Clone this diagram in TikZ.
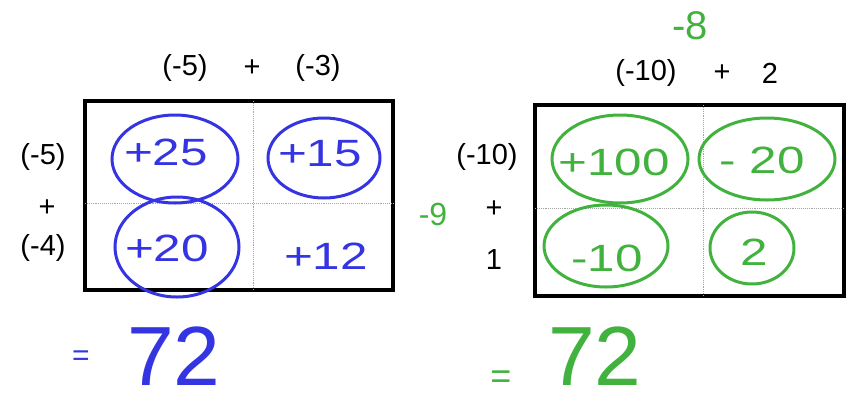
\documentclass[tikz,border=0pt]{standalone}
\usepackage{fontspec}
\setmainfont{Liberation Sans}
\usetikzlibrary{positioning}
\definecolor{handblue}{RGB}{52,52,226}
\definecolor{handgreen}{RGB}{66,178,62}
\newcommand{\hand}[1]{\scalebox{1.3}[1]{#1}}

\begin{document}
\begin{tikzpicture}[
  x=1pt, y=-1pt,
  grid/.style={draw, line width=3.2pt},
  divider/.style={draw=gray!70, densely dotted, line width=0.9pt},
  factor/.style={inner sep=0pt, font=\fontsize{29}{29}\selectfont},
  ink/.style={inner sep=0pt, font=\fontsize{38}{38}\selectfont},
  note/.style={inner sep=0pt, font=\fontsize{32}{32}\selectfont, text=handgreen},
  total/.style={inner sep=0pt, font=\fontsize{84}{84}\selectfont},
  loop/.style={line width=3pt},
]
\useasboundingbox (0,0) rectangle (854,402);

% left box: (-5)+(-3) times (-5)+(-4)
\draw[grid] (85,101) rectangle (393,290);
\draw[divider] (253,101) -- (253,290);
\draw[divider] (85,203) -- (393,203);

\node[factor] (ta) at (185,68) {(-5)};
\node[factor] (tplus) at (252,68) {+};
\node[factor] (tb) at (318,68) {(-3)};
\node[factor] (la) at (43,157) {(-5)};
\node[factor] (lplus) at (47,208) {+};
\node[factor] (lb) at (43,248) {(-4)};

\node[ink, text=handblue] (p25) at (166,152) {\hand{+25}};
\node[ink, text=handblue] (p15) at (320,154) {\hand{+15}};
\node[ink, text=handblue] (p20) at (167,248) {\hand{+20}};
\node[ink, text=handblue] (p12) at (326,256) {\hand{+12}};
\draw[loop, handblue] (175,159) ellipse [x radius=63, y radius=44];
\draw[loop, handblue] (324,158) ellipse [x radius=56, y radius=40];
\draw[loop, handblue] (177,247) ellipse [x radius=62, y radius=50];

\node[inner sep=0pt, font=\fontsize{30}{30}\selectfont, text=handblue] (eqa) at (81,358) {=};
\node[total, text=handblue] (suma) at (174,356) {72};

% right box: (-10)+2 times (-10)+1
\draw[grid] (535,105) rectangle (844,296);
\draw[divider] (703,105) -- (703,296);
\draw[divider] (535,208) -- (844,208);

\node[note, font=\fontsize{40}{40}\selectfont] (sumt) at (690,26) {-8};
\node[factor] (tc) at (646,73) {(-10)};
\node[factor] (tplus2) at (722,73) {+};
\node[factor] (td) at (770,73) {2};
\node[factor] (lc) at (487,157) {(-10)};
\node[factor] (lplus2) at (494,209) {+};
\node[factor] (ld) at (494,260) {1};
\node[note] (suml) at (433,214) {-9};

\node[ink, text=handgreen] (p100) at (614,162) {\hand{+100}};
\node[ink, text=handgreen] (m20) at (762,160) {\hand{- 20}};
\node[ink, text=handgreen] (m10) at (607,258) {\hand{-10}};
\node[ink, text=handgreen] (p2) at (754,252) {\hand{2}};
\draw[loop, handgreen] (620,159) ellipse [x radius=68, y radius=44];
\draw[loop, handgreen] (767,159) ellipse [x radius=68, y radius=41];
\draw[loop, handgreen] (606,246) ellipse [x radius=62, y radius=41];
\draw[loop, handgreen] (752,248) ellipse [x radius=42, y radius=36];

\node[inner sep=0pt, font=\fontsize{36}{36}\selectfont, text=handgreen] (eqb) at (501,380) {=};
\node[total, text=handgreen] (sumb) at (595,356) {72};
\end{tikzpicture}
\end{document}
